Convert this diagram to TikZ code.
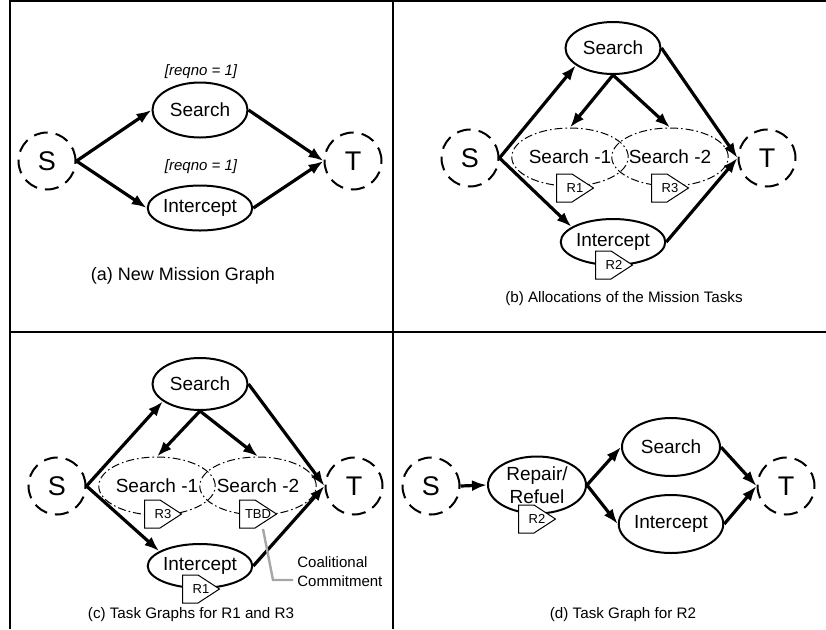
\documentclass[tikz,border=0pt]{standalone}
\usepackage{fontspec}
\setmainfont{Liberation Sans}
\usetikzlibrary{shapes.geometric,arrows.meta}

\tikzset{
  task/.style={draw, ellipse, line width=1pt, inner sep=0pt, minimum width=47.5pt, minimum height=26pt, font=\fontsize{9.5}{11.5}\selectfont},
  subtask/.style={draw, ellipse, line width=0.5pt, dash pattern=on 4pt off 1.5pt on 0.8pt off 1.5pt, inner sep=0pt, minimum width=52pt, minimum height=29pt, font=\fontsize{9.5}{11}\selectfont},
  term/.style={draw, circle, line width=1pt, dash pattern=on 7pt off 4pt, inner sep=0pt, minimum size=28.5pt, font=\fontsize{13.5}{14}\selectfont},
  flow/.style={line width=1.6pt, -{Latex[length=7.5pt,width=5.5pt]}},
  tag/.style={minimum width=19pt, minimum height=14.5pt, inner sep=0pt, font=\fontsize{6.5}{7}\selectfont,
    path picture={\draw[line width=0.5pt, fill=white]
      ([shift={(0.25pt,-0.25pt)}]path picture bounding box.north west) -- ([shift={(8pt,-0.25pt)}]path picture bounding box.north west)
      -- ([xshift=-0.25pt]path picture bounding box.east)
      -- ([shift={(8pt,0.25pt)}]path picture bounding box.south west)
      -- ([shift={(0.25pt,0.25pt)}]path picture bounding box.south west) -- cycle;}},
  req/.style={font=\fontsize{7.5}{9}\selectfont\itshape},
  caption/.style={font=\fontsize{7.6}{9}\selectfont},
  frame/.style={line width=1pt},
  note/.style={draw=black!35, line width=1.2pt}
}

\begin{document}
\begin{tikzpicture}[x=0.5pt,y=-0.5pt]
\useasboundingbox (0,0) rectangle (826,629);

% panel frames
\draw[frame] (10,629) -- (10,1) -- (826,1);
\draw[frame] (393,1) -- (393,629);
\draw[frame] (10,332) -- (826,332);

% (a) new mission graph
\node[term] (aS) at (47,161) {S};
\node[task, minimum height=27.5pt] (aSrch) at (200,110) {Search};
\node[task, minimum height=22.5pt] (aInt) at (200,208) {Intercept};
\node[term] (aT) at (353,161) {T};
\node[req] (aReq1) at (201,72) {[reqno = 1]};
\node[req] (aReq2) at (201,167) {[reqno = 1]};
\node[caption, font=\fontsize{9}{10}\selectfont] (aCap) at (183,276) {(a) New Mission Graph};

\draw[flow] (aS.east) -- (aSrch.west);
\draw[flow] (aS.east) -- (aInt.west);
\draw[flow] (aSrch.east) -- (aT.west);
\draw[flow] (aInt.east) -- (aT.west);

% (b) allocations
\node[term] (bS) at (470,158) {S};
\node[task] (bSrch) at (613,48) {Search};
\node[subtask] (bS1) at (570,157) {Search -1};
\node[subtask, minimum width=54pt] (bS2) at (670,157) {Search -2};
\node[task, minimum height=23pt] (bInt) at (613,242) {Intercept};
\node[term] (bT) at (767,158) {T};
\node[tag] (bR1) at (575,188) {R1};
\node[tag] (bR3) at (670,188) {R3};
\node[tag] (bR2) at (614,265) {R2};
\node[caption] (bCap) at (624,299) {(b) Allocations of the Mission Tasks};

\draw[flow] (bS.east) -- (bSrch.205);
\draw[flow] (bS.east) -- (bInt.160);
\draw[flow] (bSrch.south) -- (bS1.north);
\draw[flow] (bSrch.south) -- (bS2.north);
\draw[flow] (bSrch.east) -- (bT.west);
\draw[flow] (bInt.east) -- (bT.west);

% (c) task graphs for R1 and R3
\node[term] (cS) at (57,486) {S};
\node[task] (cSrch) at (200,384) {Search};
\node[subtask] (cS1) at (157,486) {Search -1};
\node[subtask, minimum width=54pt] (cS2) at (258,486) {Search -2};
\node[task, minimum height=22pt] (cInt) at (200,566) {Intercept};
\node[term] (cT) at (354,486) {T};
\node[tag] (cR3) at (163,514) {R3};
\node[tag] (cTBD) at (258,514) {TBD};
\node[tag] (cR1) at (201,589) {R1};
\node[font=\fontsize{7.5}{9.5}\selectfont, align=left, anchor=west, inner sep=0pt] (cCoal) at (297,572) {Coalitional\\Commitment};
\node[caption] (cCap) at (191,615) {(c) Task Graphs for R1 and R3};

\draw[flow] (cS.east) -- (cSrch.205);
\draw[flow] (cS.east) -- (cInt.160);
\draw[flow] (cSrch.south) -- (cS1.north);
\draw[flow] (cSrch.south) -- (cS2.north);
\draw[flow] (cSrch.east) -- (cT.west);
\draw[flow] (cInt.east) -- (cT.west);
\coordinate (cBend) at (273,580);
\draw[note, shorten >=2pt] ([xshift=2.5pt]cTBD.south) -- (cBend) -- (cBend -| cCoal.west);

% (d) task graph for R2
\node[term] (dS) at (431,486) {S};
\node[task, minimum width=49pt, minimum height=28.5pt, align=center] (dRep) at (537,485) {Repair/\\Refuel};
\node[task, minimum width=49pt, minimum height=29pt] (dSrch) at (671,447) {Search};
\node[task, minimum width=49pt, minimum height=29pt] (dInt) at (671,524) {Intercept};
\node[term] (dT) at (786,486) {T};
\node[tag] (dR2) at (537,519) {R2};
\node[caption] (dCap) at (623,615) {(d) Task Graph for R2};

\draw[flow] (dS.east) -- (dRep.west);
\draw[flow] (dRep.east) -- (dSrch.west);
\draw[flow] (dRep.east) -- (dInt.west);
\draw[flow] (dSrch.east) -- (dT.west);
\draw[flow] (dInt.east) -- (dT.west);
\end{tikzpicture}
\end{document}
